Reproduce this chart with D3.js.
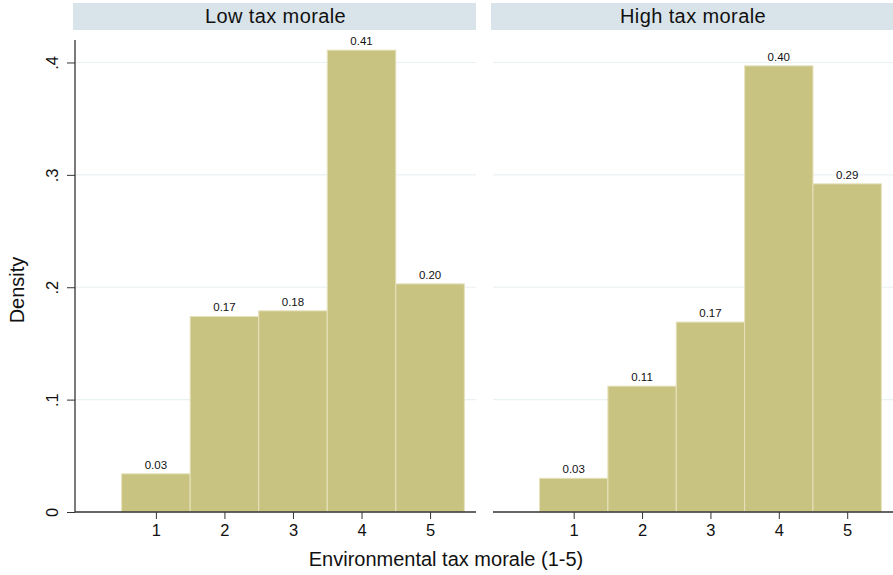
<!DOCTYPE html>
<html>
<head>
<meta charset="utf-8">
<script src="https://cdn.jsdelivr.net/npm/d3@7"></script>
<style>
  body { margin: 0; background: #fff; }
  text { font-family: "Liberation Sans", Arial, sans-serif; fill: #111; }
</style>
</head>
<body>
<svg id="svg" width="893" height="575"></svg>
<script>
// data
const categories = [1, 2, 3, 4, 5];
const panels = ["Low tax morale", "High tax morale"];
const lowDensity = [0.034, 0.174, 0.179, 0.411, 0.203];
const highDensity = [0.030, 0.112, 0.169, 0.397, 0.292];
const yTicks = [0, 0.1, 0.2, 0.3, 0.4];
const yTickLabels = ["0", ".1", ".2", ".3", ".4"];

const svg = d3.select("#svg");
const barColor = "#c9c381";

const plotTop = 40, plotBottom = 512;
const y = d3.scaleLinear().domain([0, 0.42]).range([plotBottom, plotTop]);

const panelX = [75, 493];
const panelW = [401, 400];
const series = [lowDensity, highDensity];

panels.forEach((title, i) => {
  const x0 = panelX[i], w = panelW[i];
  const x = d3.scaleLinear().domain([-0.18, 5.67]).range([x0, x0 + w]);
  const g = svg.append("g");

  // header strip
  g.append("rect")
    .attr("x", x0 - 2).attr("y", 3)
    .attr("width", w + 2).attr("height", 27)
    .attr("fill", "#d9e4ea");
  g.append("text")
    .attr("x", x0 + w / 2).attr("y", 23)
    .attr("text-anchor", "middle")
    .attr("font-size", 20)
    .attr("letter-spacing", 0.4)
    .text(title);

  // gridlines
  g.selectAll(".grid")
    .data(yTicks.slice(1))
    .join("line")
    .attr("x1", x0).attr("x2", x0 + w)
    .attr("y1", d => y(d)).attr("y2", d => y(d))
    .attr("stroke", "#e9f1f3").attr("stroke-width", 1.2);

  // bars
  const data = categories.map((c, k) => ({ c, v: series[i][k] }));
  g.selectAll(".bar")
    .data(data)
    .join("rect")
    .attr("x", d => x(d.c - 0.5))
    .attr("width", d => x(d.c + 0.5) - x(d.c - 0.5))
    .attr("y", d => y(d.v))
    .attr("height", d => y(0) - y(d.v))
    .attr("fill", barColor)
    .attr("stroke", "#e6e2bd").attr("stroke-width", 1);

  g.selectAll(".lab")
    .data(data)
    .join("text")
    .attr("x", d => x(d.c))
    .attr("y", d => y(d.v) - 5)
    .attr("text-anchor", "middle")
    .attr("font-size", 11.5)
    .text(d => d3.format(".2f")(d.v));

  // x axis
  const xAxis = g.append("g")
    .attr("transform", `translate(0,${plotBottom})`)
    .call(d3.axisBottom(x).tickValues(categories).tickSize(7).tickPadding(5).tickFormat(d3.format("d")));
  xAxis.select(".domain").attr("stroke", "#333").attr("stroke-width", 1.3).attr("d", `M${x0},0H${x0 + w}`);
  xAxis.selectAll(".tick line").attr("stroke", "#333");
  xAxis.selectAll(".tick text").attr("font-size", 16.5).attr("font-family", "Liberation Sans, Arial, sans-serif").attr("fill", "#111");

  if (i === 0) {
    const yAxis = g.append("g")
      .attr("transform", `translate(${x0},0)`)
      .call(d3.axisLeft(y).tickValues(yTicks).tickSize(8).tickFormat((d, k) => yTickLabels[k]));
    yAxis.select(".domain").attr("stroke", "#333").attr("stroke-width", 1.3).attr("d", `M0,${plotTop}V${plotBottom}`);
    yAxis.selectAll(".tick line").attr("stroke", "#333");
    yAxis.selectAll(".tick text")
      .attr("font-size", 16.5)
      .attr("font-family", "Liberation Sans, Arial, sans-serif")
      .attr("fill", "#111")
      .attr("text-anchor", "middle")
      .attr("x", null).attr("dy", null)
      .attr("transform", "translate(-17,0) rotate(-90)");
  }
});

svg.append("text")
  .attr("transform", "translate(24,290) rotate(-90)")
  .attr("text-anchor", "middle")
  .attr("font-size", 20)
  .text("Density");

svg.append("text")
  .attr("x", 446).attr("y", 566)
  .attr("text-anchor", "middle")
  .attr("font-size", 20)
  .text("Environmental tax morale (1-5)");
</script>
</body>
</html>
